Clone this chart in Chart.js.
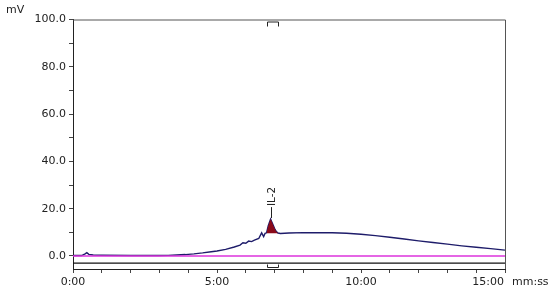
<!DOCTYPE html>
<html>
<head>
<meta charset="utf-8">
<script src="https://cdn.jsdelivr.net/npm/chart.js@4.4.1/dist/chart.umd.min.js"></script>
<style>
  html, body { margin: 0; padding: 0; background: #fff; }
  #wrap { width: 550px; height: 291px; position: relative; }
</style>
</head>
<body>
<div id="wrap"><canvas id="chrom"></canvas></div>
<script>
// trace data (x in minutes, y in mV)
const timeMin = [0, 0.3, 0.42, 0.48, 0.55, 0.7, 1, 2, 3, 3.3, 3.6, 3.9, 4.2, 4.5, 4.8, 5.0, 5.3, 5.6, 5.8, 5.9, 6.0, 6.1, 6.2, 6.3, 6.45, 6.55, 6.62, 6.67, 6.72, 6.78, 6.86, 6.93, 7.0, 7.06, 7.12, 7.2, 7.5, 8, 8.5, 9, 9.5, 10, 10.5, 11, 11.5, 12, 12.5, 13, 13.5, 14, 14.5, 15]
const signalMv = [0.2, 0.2, 0.9, 1.4, 0.7, 0.4, 0.3, 0.2, 0.2, 0.25, 0.4, 0.6, 0.9, 1.3, 1.8, 2.1, 2.8, 3.8, 4.6, 5.6, 5.4, 6.3, 6.1, 6.7, 7.4, 9.8, 8.2, 9.6, 9.8, 12.8, 15.6, 13.6, 11.6, 10.3, 9.7, 9.5, 9.7, 9.9, 9.8, 9.8, 9.6, 9.2, 8.6, 7.9, 7.2, 6.4, 5.7, 5.0, 4.3, 3.7, 3.1, 2.5]

// peak IL-2
const peakName = 'IL-2'
const peakTop = 6.86
const peakStart = 6.72
const peakEnd = 7.12
const peakBase = 9.6

const baselineMv = [0, 0]
const markerLineMv = [-3, -3]
const rangeMin = [0, 15]

const yTicks = [0, 10, 20, 30, 40, 50, 60, 70, 80, 90, 100]
const yLabelled = [0, 20, 40, 60, 80, 100]
const xLabelled = [0, 5, 10]
const xLastLabel = '15:00'

const trace = timeMin.map((t, i) => ({ x: t, y: signalMv[i] }))
const peakPts = trace.filter(p => p.x >= peakStart && p.x <= peakEnd)

const decor = {
  id: 'decor',
  afterDatasetsDraw(chart) {
    const { ctx, chartArea: a, scales: { x, y } } = chart
    ctx.save()
    // frame
    ctx.strokeStyle = '#555'
    ctx.lineWidth = 1
    ctx.beginPath()
    ctx.moveTo(a.left, a.top + 0.5)
    ctx.lineTo(a.right + 0.5, a.top + 0.5)
    ctx.lineTo(a.right + 0.5, a.bottom)
    ctx.stroke()

    // brackets around the peak window
    const x1 = Math.round(x.getPixelForValue(peakStart)) + 0.5
    const x2 = Math.round(x.getPixelForValue(peakEnd)) + 0.5
    ctx.strokeStyle = '#222'
    ctx.beginPath()
    ctx.moveTo(x1, a.top + 7); ctx.lineTo(x1, a.top + 2.5); ctx.lineTo(x2, a.top + 2.5); ctx.lineTo(x2, a.top + 7)
    const yb = Math.round(y.getPixelForValue(-4.7)) + 0.5
    ctx.moveTo(x1, yb - 3); ctx.lineTo(x1, yb); ctx.lineTo(x2, yb); ctx.lineTo(x2, yb - 3)
    ctx.stroke()

    // peak label
    const px = Math.round(x.getPixelForValue(peakTop)) + 0.5
    const py = y.getPixelForValue(15.6)
    ctx.beginPath()
    ctx.moveTo(px, py - 1)
    ctx.lineTo(px, py - 12)
    ctx.stroke()
    ctx.translate(px + 0.5, py - 13)
    ctx.rotate(-Math.PI / 2)
    ctx.fillStyle = '#222'
    ctx.font = '10.5px "DejaVu Sans"'
    ctx.textAlign = 'left'
    ctx.textBaseline = 'middle'
    ctx.fillText(peakName, 0, 0)
    ctx.restore()

    // last x label (right aligned to the axis end) and unit captions
    ctx.save()
    ctx.fillStyle = '#222'
    ctx.font = '11px "DejaVu Sans"'
    ctx.textBaseline = 'middle'
    ctx.textAlign = 'right'
    ctx.fillText(xLastLabel, x.getPixelForValue(15) - 1, 282)
    ctx.textAlign = 'left'
    ctx.fillText('mV', 6, 10)
    ctx.fillText('mm:ss', 512, 282)
    ctx.restore()
  }
}

new Chart(document.getElementById('chrom'), {
  type: 'scatter',
  data: {
    datasets: [
      {
        label: 'peak',
        data: peakPts,
        showLine: true,
        borderWidth: 0,
        pointRadius: 0,
        backgroundColor: '#8a0a1a',
        fill: { value: peakBase }
      },
      {
        label: 'baseline',
        data: rangeMin.map((t, i) => ({ x: t, y: baselineMv[i] })),
        showLine: true,
        borderColor: '#dd33dd',
        borderWidth: 1.5,
        pointRadius: 0
      },
      {
        label: 'marker',
        data: rangeMin.map((t, i) => ({ x: t, y: markerLineMv[i] })),
        showLine: true,
        borderColor: '#111',
        borderWidth: 1.2,
        pointRadius: 0
      },
      {
        label: 'signal',
        data: trace,
        showLine: true,
        borderColor: '#1e1c6a',
        borderWidth: 1.4,
        pointRadius: 0,
        tension: 0
      }
    ]
  },
  options: {
    responsive: true,
    maintainAspectRatio: false,
    animation: false,
    layout: { padding: { left: 0, right: 45, top: 19.5, bottom: 0 } },
    plugins: { legend: { display: false }, tooltip: { enabled: false } },
    scales: {
      x: {
        type: 'linear',
        min: 0,
        max: 15,
        afterFit: s => { s.height = 22 },
        afterBuildTicks: s => { s.ticks = Array.from({ length: 16 }, (_, i) => ({ value: i })) },
        grid: { drawOnChartArea: false, tickLength: 4, color: '#444' },
        border: { color: '#222', width: 1 },
        ticks: {
          autoSkip: false,
          maxRotation: 0,
          color: '#222',
          font: { family: 'DejaVu Sans', size: 11 },
          padding: 3,
          callback: v => xLabelled.includes(v) ? v + ':00' : ''
        }
      },
      y: {
        min: -5.5,
        max: 100,
        afterFit: s => { s.width = 73 },
        afterBuildTicks: s => { s.ticks = yTicks.map(v => ({ value: v })) },
        grid: { drawOnChartArea: false, tickLength: 4, color: '#444' },
        border: { color: '#222', width: 1 },
        ticks: {
          autoSkip: false,
          color: '#222',
          font: { family: 'DejaVu Sans', size: 11 },
          padding: 3,
          callback: v => yLabelled.includes(v) ? v.toFixed(1) : ''
        }
      }
    }
  },
  plugins: [decor]
})
</script>
</body>
</html>
